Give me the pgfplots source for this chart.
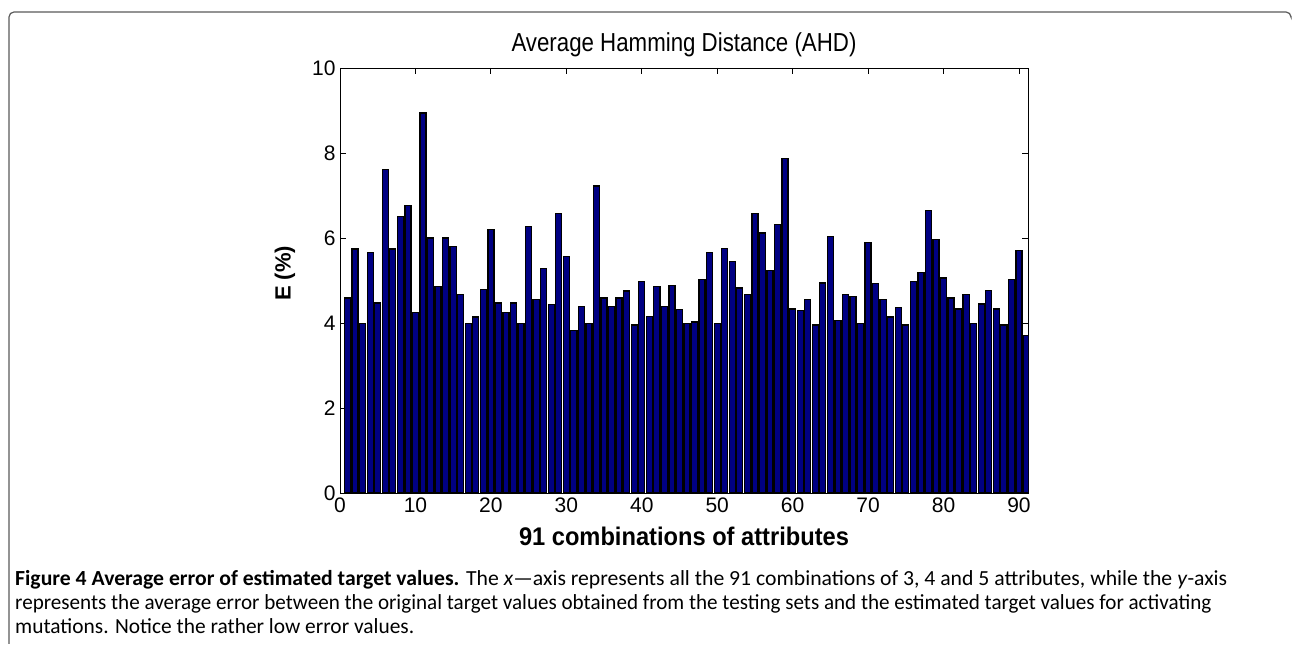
\documentclass[border=0pt]{standalone}
\usepackage{pgfplots}
\pgfplotsset{compat=1.18}
\usepackage{pgfplotstable}
\usepackage{graphicx}
\usepackage{fontspec}
\setmainfont{Liberation Sans}
\newfontfamily\capfont{Carlito}
\definecolor{barblue}{RGB}{0,0,130}
\pgfplotstableread{
i v
1 4.59
2 5.74
3 3.98
4 5.66
5 4.47
6 7.61
7 5.74
8 6.51
9 6.77
10 4.25
11 8.94
12 6.00
13 4.86
14 6.00
15 5.80
16 4.67
17 3.98
18 4.14
19 4.78
20 6.20
21 4.47
22 4.25
23 4.47
24 3.98
25 6.27
26 4.56
27 5.28
28 4.43
29 6.57
30 5.57
31 3.83
32 4.39
33 3.98
34 7.22
35 4.59
36 4.39
37 4.59
38 4.75
39 3.95
40 4.98
41 4.16
42 4.86
43 4.39
44 4.89
45 4.31
46 3.98
47 4.02
48 5.02
49 5.66
50 3.98
51 5.76
52 5.44
53 4.82
54 4.67
55 6.57
56 6.12
57 5.24
58 6.31
59 7.87
60 4.33
61 4.30
62 4.56
63 3.95
64 4.94
65 6.04
66 4.06
67 4.67
68 4.63
69 3.98
70 5.90
71 4.93
72 4.56
73 4.14
74 4.37
75 3.95
76 4.98
77 5.18
78 6.65
79 5.96
80 5.06
81 4.59
82 4.33
83 4.67
84 3.98
85 4.45
86 4.76
87 4.33
88 3.95
89 5.02
90 5.70
91 3.70
}\ahd
\begin{document}
\begin{tikzpicture}[x=1pt,y=1pt]
\path[use as bounding box] (0,0) rectangle (1293,645);
% figure frame
\draw[line width=1.2pt, color=black!65, rounded corners=5pt] (9,1) -- (9,633) -- (1291,633) -- (1291,629);
\begin{axis}[
  at={(340pt,152pt)}, anchor=south west,
  width=688pt, height=425pt, scale only axis,
  xmin=0, xmax=91.2, ymin=0, ymax=10,
  ybar, bar width=0.8, bar shift=0pt,
  xtick={0,10,...,90}, ytick={0,2,...,10},
  tick align=inside, major tick length=6pt,
  every tick/.style={black, line width=0.8pt},
  axis line style={black, line width=0.9pt},
  tick label style={font=\fontsize{21}{23}\selectfont},
  /pgf/number format/assume math mode=true,
  title={\resizebox{345pt}{\height}{Average Hamming Distance (AHD)}},
  title style={font=\fontsize{26}{28}\selectfont, at={(axis description cs:0.5,1.04)}, anchor=center},
  xlabel={\resizebox{330pt}{\height}{91 combinations of attributes}},
  xlabel style={font=\bfseries\fontsize{25.5}{27}\selectfont, at={(axis description cs:0.5,-0.103)}, anchor=center},
  ylabel={E (\%)},
  ylabel style={font=\bfseries\fontsize{22}{24}\selectfont, at={(axis description cs:-0.08,0.517)}, anchor=center},
  xticklabel style={yshift=-1pt},
  yticklabel style={xshift=-1pt},
]
\addplot[fill=barblue, draw=black, line width=1.3pt] table[x=i, y=v] {\ahd};
\end{axis}
% caption
\node[anchor=base west, inner sep=0pt] at (15,59) {\resizebox{1212pt}{\height}{\capfont\fontsize{21.5}{24}\selectfont\textbf{Figure 4 Average error of estimated target values.} The \textit{x}—axis represents all the 91 combinations of 3, 4 and 5 attributes, while the \textit{y}-axis}};
\node[anchor=base west, inner sep=0pt] at (15,35) {\resizebox{1196pt}{\height}{\capfont\fontsize{21.5}{24}\selectfont represents the average error between the original target values obtained from the testing sets and the estimated target values for activating}};
\node[anchor=base west, inner sep=0pt] at (15,11) {\resizebox{399pt}{\height}{\capfont\fontsize{21.5}{24}\selectfont mutations. Notice the rather low error values.}};
\end{tikzpicture}
\end{document}
